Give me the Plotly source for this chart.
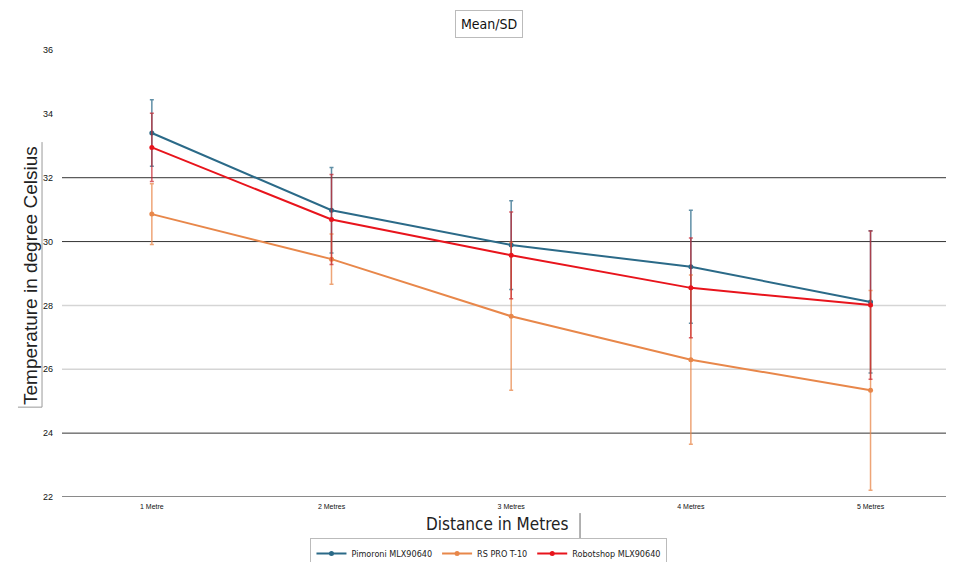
import plotly.graph_objects as go

categories = ["1 Metre", "2 Metres", "3 Metres", "4 Metres", "5 Metres"]
series_names = ["Pimoroni MLX90640", "RS PRO T-10", "Robotshop MLX90640"]
pimoroni_mean = [33.40, 30.98, 29.89, 29.21, 28.11]
pimoroni_sd = [1.04, 1.34, 1.39, 1.77, 2.23]
rspro_mean = [30.86, 29.45, 27.66, 26.30, 25.34]
rspro_sd = [0.95, 0.79, 2.32, 2.65, 3.13]
robotshop_mean = [32.95, 30.69, 29.57, 28.55, 28.01]
robotshop_sd = [1.07, 1.41, 1.36, 1.56, 2.32]
y_ticks = [22, 24, 26, 28, 30, 32, 34, 36]
dark_grid = [32, 30, 24]
light_grid = [28, 26]

colors = ["#2B6A88", "#E8874A", "#E8141C"]
err_colors = ["rgba(43,106,136,0.75)", "rgba(232,135,74,0.75)", "rgba(200,30,40,0.7)"]

fig = go.Figure()
for name, mean, sd, c, ec in zip(
    series_names,
    [pimoroni_mean, rspro_mean, robotshop_mean],
    [pimoroni_sd, rspro_sd, robotshop_sd],
    colors, err_colors,
):
    fig.add_trace(go.Scatter(
        x=categories, y=mean, name=name, mode="lines+markers",
        line=dict(color=c, width=2),
        marker=dict(color=c, size=5, symbol="circle"),
        error_y=dict(type="data", array=sd, visible=True, color=ec, thickness=1.5, width=2),
    ))

for g in dark_grid:
    fig.add_shape(type="line", xref="paper", yref="y", x0=0, x1=1, y0=g, y1=g,
                  line=dict(color="#333333", width=1), layer="below")
for g in light_grid:
    fig.add_shape(type="line", xref="paper", yref="y", x0=0, x1=1, y0=g, y1=g,
                  line=dict(color="#D5D5D5", width=1.5), layer="below")
fig.add_shape(type="line", xref="paper", yref="y", x0=0, x1=1, y0=22, y1=22,
              line=dict(color="#8A8A8A", width=2), layer="below")

fig.add_annotation(text="Mean/SD", xref="paper", yref="paper", x=0.4825, y=1.058,
                   showarrow=False, font=dict(family="DejaVu Sans Condensed, Arial", size=14, color="#111"),
                   bordercolor="#BBBBBB", borderwidth=1, borderpad=5, bgcolor="white",
                   xanchor="center", yanchor="middle")
fig.add_annotation(text="Temperature in degree Celsius", xref="paper", yref="paper",
                   x=-0.0362, y=0.4966, textangle=-90, showarrow=False,
                   font=dict(family="Arial", size=19, color="#222"),
                   xanchor="center", yanchor="middle")
fig.add_shape(type="line", xref="paper", yref="paper", x0=-0.0226, x1=-0.0226, y0=0.201, y1=0.794,
              line=dict(color="#999999", width=1))
fig.add_shape(type="line", xref="paper", yref="paper", x0=-0.0498, x1=-0.0226, y0=0.201, y1=0.201,
              line=dict(color="#999999", width=1))
fig.add_annotation(text="Distance in Metres", xref="paper", yref="paper",
                   x=0.492, y=-0.0604, showarrow=False,
                   font=dict(family="DejaVu Sans Condensed, Arial", size=17, color="#222"),
                   xanchor="center", yanchor="middle")
fig.add_shape(type="line", xref="paper", yref="paper", x0=0.586, x1=0.586, y0=-0.036, y1=-0.092,
              line=dict(color="#666666", width=1))

fig.update_layout(
    width=938, height=554,
    margin=dict(l=54, r=0, t=42, b=65, autoexpand=False),
    plot_bgcolor="white", paper_bgcolor="white",
    showlegend=True,
    legend=dict(orientation="h", x=0.483, xanchor="center", y=-0.0917, yanchor="top",
                font=dict(family="DejaVu Sans Condensed, Arial", size=9, color="#222"),
                bordercolor="#BBBBBB", borderwidth=1, bgcolor="white",
                itemwidth=30, tracegroupgap=0),
    xaxis=dict(type="category", range=[-0.5, 4.42], showgrid=False, zeroline=False,
               showline=False, ticks="", automargin=False, ticklabelstandoff=4,
               tickfont=dict(family="Arial Black, Arial", size=7, color="#111")),
    yaxis=dict(range=[22, 36], tickvals=y_ticks, showgrid=False, zeroline=False,
               showline=False, ticks="", ticklabelstandoff=8, automargin=False,
               tickfont=dict(family="Arial", size=9, color="#111")),
)

fig.write_html("out.html")
